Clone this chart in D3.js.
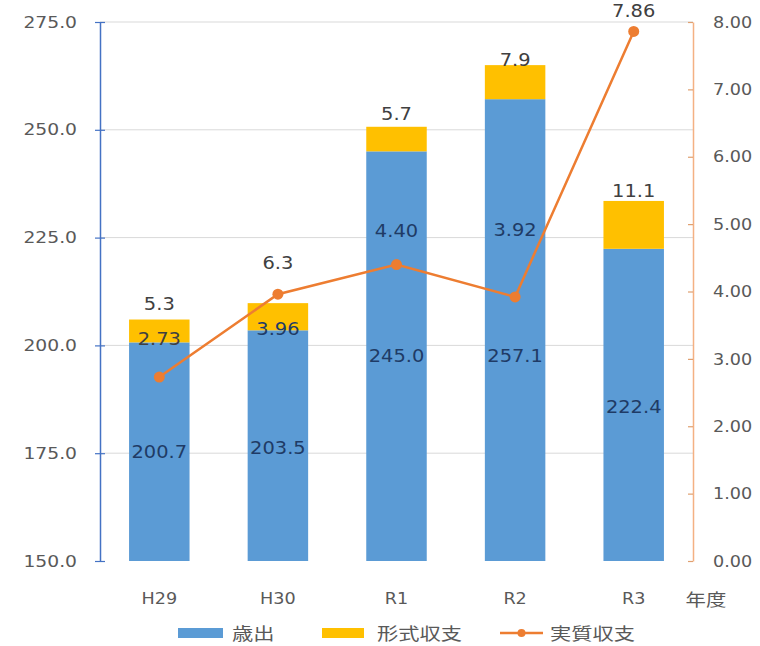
<!DOCTYPE html>
<html lang="ja">
<head>
<meta charset="utf-8">
<script src="https://cdn.jsdelivr.net/npm/d3@7"></script>
<style>
  html, body { margin: 0; padding: 0; background: #fff; }
  svg { display: block; }
</style>
</head>
<body>
<svg id="chart" width="760" height="646"></svg>
<script>
// 年度別の決算状況
const years      = ["H29", "H30", "R1", "R2", "R3"];
const expenditure = [200.7, 203.5, 245.0, 257.1, 222.4]; // 歳出
const formal      = [5.3, 6.3, 5.7, 7.9, 11.1];          // 形式収支
const real        = [2.73, 3.96, 4.40, 3.92, 7.86];      // 実質収支
const leftTicks  = [150, 175, 200, 225, 250, 275];
const rightTicks = [0, 1, 2, 3, 4, 5, 6, 7, 8];
const seriesNames = ["歳出", "形式収支", "実質収支"];
const axisUnit = "年度";

const C = { blue: "#5b9bd5", yellow: "#ffc000", orange: "#ed7d31",
            grid: "#d9d9d9", tick: "#595959", label: "#404040", inBar: "#1f3b66" };
const NUM = "'DejaVu Sans', Verdana, sans-serif";
const JP  = "'Noto Sans CJK JP', 'Noto Sans', sans-serif";

const svg = d3.select("#chart");
const plot = { left: 100, right: 693, top: 22, bottom: 561 };

const x = d3.scaleBand().domain(years).range([plot.left, plot.right])
  .paddingInner(0.49).paddingOuter(0.245);
const yL = d3.scaleLinear().domain([150, 275]).range([plot.bottom, plot.top]);
const yR = d3.scaleLinear().domain([0, 8]).range([plot.bottom, plot.top]);

// text drawn slightly widened horizontally
function label(g, px, py, str, o = {}) {
  return g.append("text")
    .attr("transform", `translate(${px},${py}) scale(${o.sx || 1.15},1)`)
    .attr("text-anchor", o.anchor || "middle")
    .attr("dominant-baseline", "central")
    .attr("font-family", o.font || NUM)
    .attr("font-size", o.size || 16)
    .attr("fill", o.fill || C.tick)
    .text(str);
}

// gridlines
svg.append("g").selectAll("line").data(leftTicks.slice(1)).join("line")
  .attr("x1", plot.left).attr("x2", plot.right)
  .attr("y1", d => yL(d)).attr("y2", d => yL(d))
  .attr("stroke", C.grid).attr("stroke-width", 1);

// stacked bars
const bars = svg.append("g");
years.forEach((yr, i) => {
  const top1 = expenditure[i], top2 = expenditure[i] + formal[i];
  bars.append("rect").attr("x", x(yr)).attr("width", x.bandwidth())
    .attr("y", yL(top1)).attr("height", yL(150) - yL(top1)).attr("fill", C.blue);
  bars.append("rect").attr("x", x(yr)).attr("width", x.bandwidth())
    .attr("y", yL(top2)).attr("height", yL(top1) - yL(top2)).attr("fill", C.yellow);
});

// left axis
const axL = d3.axisLeft(yL).tickValues(leftTicks).tickSize(0).tickFormat(d3.format(".1f"));
const gL = svg.append("g").attr("transform", `translate(${plot.left},0)`).call(axL);
gL.select(".domain").attr("stroke", "#4472c4").attr("stroke-width", 1.5);
gL.selectAll(".tick text").remove();
gL.selectAll(".tick").append("line").attr("x1", -5).attr("x2", 5)
  .attr("stroke", "#4472c4").attr("stroke-width", 1.2);
leftTicks.forEach(t => label(svg, 77, yL(t), d3.format(".1f")(t), { anchor: "end", size: 16, sx: 1.17 }));

// right axis
const axR = d3.axisRight(yR).tickValues(rightTicks).tickSize(0).tickFormat(d3.format(".2f"));
const gR = svg.append("g").attr("transform", `translate(${plot.right},0)`).call(axR);
gR.select(".domain").attr("stroke", "#f4b183").attr("stroke-width", 1.5);
gR.selectAll(".tick text").remove();
gR.selectAll(".tick").append("line").attr("x1", -5).attr("x2", 0)
  .attr("stroke", "#e0a070").attr("stroke-width", 1.2);
rightTicks.forEach(t => label(svg, 713, yR(t), d3.format(".2f")(t), { anchor: "start", size: 16, sx: 1.1 }));

// x category labels
years.forEach(yr => label(svg, x(yr) + x.bandwidth() / 2, 598, yr, { size: 16, sx: 1.1 }));
label(svg, 706, 598, axisUnit, { font: JP, size: 17, sx: 1.2 });

// 実質収支 line
const cx = yr => x(yr) + x.bandwidth() / 2;
const lineGen = d3.line().x((d, i) => cx(years[i])).y(d => yR(d));
svg.append("path").datum(real).attr("d", lineGen)
  .attr("fill", "none").attr("stroke", C.orange).attr("stroke-width", 2.5);
svg.append("g").selectAll("circle").data(real).join("circle")
  .attr("cx", (d, i) => cx(years[i])).attr("cy", d => yR(d)).attr("r", 5.5)
  .attr("fill", C.orange);

// data labels
const blueNudge   = [0, 2, 0, 26, 2];
const yellowNudge = [-16, -40, -13, -5, -10];
const lineNudge   = [-38, 35, -34, -67, -21];
const lab = svg.append("g");
years.forEach((yr, i) => {
  label(lab, cx(yr), (yL(expenditure[i]) + yL(150)) / 2 + blueNudge[i],
    d3.format(".1f")(expenditure[i]), { size: 18, fill: C.inBar, sx: 1.08 });
  label(lab, cx(yr), yL(expenditure[i] + formal[i]) + yellowNudge[i],
    d3.format(".1f")(formal[i]), { size: 18, fill: C.label, sx: 1.08 });
  label(lab, cx(yr), yR(real[i]) + lineNudge[i],
    d3.format(".2f")(real[i]), { size: 18, fill: i === 2 || i === 3 || i === 1 ? C.inBar : C.label, sx: 1.08 });
});

// legend
const leg = svg.append("g");
const legendY = 633;
leg.append("rect").attr("x", 178).attr("y", legendY - 5).attr("width", 45).attr("height", 10).attr("fill", C.blue);
label(leg, 232, legendY, seriesNames[0], { anchor: "start", font: JP, size: 17, sx: 1.25, fill: C.tick });
leg.append("rect").attr("x", 322).attr("y", legendY - 5).attr("width", 42).attr("height", 10).attr("fill", C.yellow);
label(leg, 377, legendY, seriesNames[1], { anchor: "start", font: JP, size: 17, sx: 1.25, fill: C.tick });
leg.append("line").attr("x1", 500).attr("x2", 543).attr("y1", legendY).attr("y2", legendY)
  .attr("stroke", C.orange).attr("stroke-width", 2.5);
leg.append("circle").attr("cx", 521.5).attr("cy", legendY).attr("r", 4).attr("fill", C.orange);
label(leg, 550, legendY, seriesNames[2], { anchor: "start", font: JP, size: 17, sx: 1.25, fill: C.tick });
</script>
</body>
</html>
